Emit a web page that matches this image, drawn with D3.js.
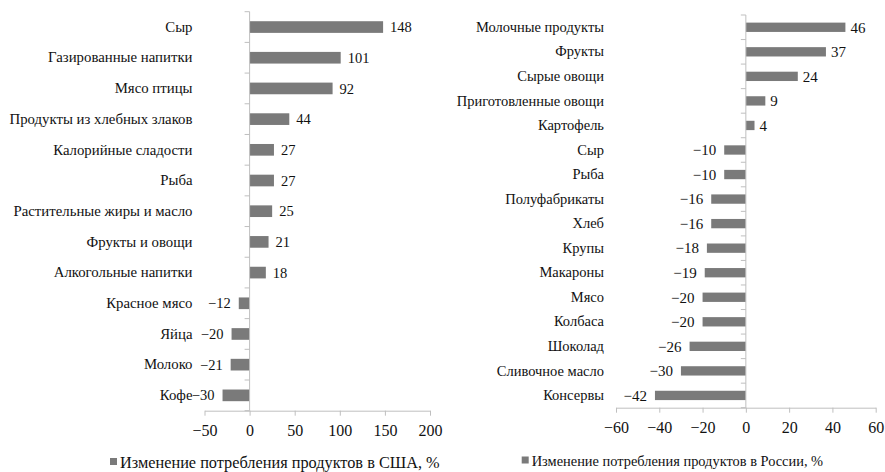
<!DOCTYPE html>
<html>
    <head>
        <script src="https://d3js.org/d3.v7.min.js"></script>
        <style>
            body { margin: 0; background: #fff; }
            svg { display: block; }
            text { font-family: "Liberation Serif", "Times New Roman", serif; fill: #111; }
        </style>
    </head>
    <body>
        <svg id="chart" width="885" height="472"></svg>
        <script>
            // USA data (top to bottom)
            let usaLabels = ["Сыр", "Газированные напитки", "Мясо птицы", "Продукты из хлебных злаков",
                "Калорийные сладости", "Рыба", "Растительные жиры и масло", "Фрукты и овощи",
                "Алкогольные напитки", "Красное мясо", "Яйца", "Молоко", "Кофе"];
            let usaValues = [148, 101, 92, 44, 27, 27, 25, 21, 18, -12, -20, -21, -30];
            let usaTicks = [-50, 0, 50, 100, 150, 200];
            let usaLegend = "Изменение потребления продуктов в США, %";

            // Russia data (top to bottom)
            let rusLabels = ["Молочные продукты", "Фрукты", "Сырые овощи", "Приготовленные овощи",
                "Картофель", "Сыр", "Рыба", "Полуфабрикаты", "Хлеб", "Крупы", "Макароны", "Мясо",
                "Колбаса", "Шоколад", "Сливочное масло", "Консервы"];
            let rusValues = [46, 37, 24, 9, 4, -10, -10, -16, -16, -18, -19, -20, -20, -26, -30, -42];
            let rusTicks = [-60, -40, -20, 0, 20, 40, 60];
            let rusLegend = "Изменение потребления продуктов в России, %";

            let svg = d3.select("#chart");
            let axisColor = "#bfbfbf";
            let barColor = "#7a7a7a";
            let fmt = v => v < 0 ? "\u2212" + Math.abs(v) : String(v);

            function drawPanel(o) {
                let g = svg.append("g");

                let x = d3.scaleLinear().domain([o.ticks[0], o.ticks[o.ticks.length - 1]]).range([o.left, o.right]);
                let y = d3.scaleBand().domain(o.labels).range([o.top, o.bottom])
                    .paddingInner(0.62).paddingOuter(0.31);

                // category labels, to the left of the plot area
                let cat = g.append("g")
                    .attr("transform", `translate(${x(o.ticks[0])},0)`)
                    .call(d3.axisLeft(y).tickSize(0).tickPadding(12));
                cat.select(".domain").remove();
                cat.selectAll("text").style("font-size", o.catFont + "px").style("font-family", null);

                // bars
                g.selectAll("rect.bar").data(o.values).join("rect")
                    .attr("class", "bar")
                    .attr("x", d => x(Math.min(0, d)))
                    .attr("y", (d, i) => y(o.labels[i]))
                    .attr("width", d => Math.abs(x(d) - x(0)))
                    .attr("height", y.bandwidth())
                    .attr("fill", barColor);

                // value labels
                g.selectAll("text.val").data(o.values).join("text")
                    .attr("class", "val")
                    .attr("x", d => d < 0 ? x(d) - 8 : x(d) + o.posGap)
                    .attr("y", (d, i) => y(o.labels[i]) + y.bandwidth() / 2)
                    .attr("dy", "0.35em")
                    .attr("text-anchor", d => d < 0 ? "end" : "start")
                    .style("font-size", o.valFont + "px")
                    .text(fmt);

                // vertical axis at zero with ticks between categories
                g.append("line")
                    .attr("x1", x(0)).attr("x2", x(0))
                    .attr("y1", o.top).attr("y2", o.bottom)
                    .attr("stroke", axisColor);
                g.selectAll("line.ct").data(d3.range(o.labels.length + 1)).join("line")
                    .attr("class", "ct")
                    .attr("x1", x(0) - 5).attr("x2", x(0))
                    .attr("y1", i => o.top + i * y.step())
                    .attr("y2", i => o.top + i * y.step())
                    .attr("stroke", axisColor);

                // horizontal value axis
                let xa = g.append("g")
                    .attr("transform", `translate(0,${o.bottom})`)
                    .call(d3.axisBottom(x).tickValues(o.ticks).tickFormat(fmt)
                        .tickSizeInner(5).tickSizeOuter(0).tickPadding(9));
                xa.select(".domain").attr("stroke", axisColor);
                xa.selectAll(".tick line").attr("stroke", axisColor);
                xa.selectAll("text").style("font-size", o.tickFont + "px").style("font-family", null).attr("fill", "#111");

                // legend
                let lg = g.append("g").attr("transform", `translate(${o.legX},${o.legY})`);
                lg.append("rect").attr("x", 0).attr("y", -4).attr("width", 7).attr("height", 7).attr("fill", barColor);
                lg.append("text").attr("x", 10).attr("y", 0).attr("dy", "0.35em")
                    .style("font-size", o.legFont + "px").text(o.legend);
            }

            drawPanel({
                labels: usaLabels, values: usaValues, ticks: usaTicks, legend: usaLegend,
                left: 204.5, right: 430, top: 11.7, bottom: 410.7,
                catFont: 14.8, valFont: 14.5, tickFont: 16, legFont: 16.3, posGap: 7,
                legX: 110, legY: 462
            });

            drawPanel({
                labels: rusLabels, values: rusValues, ticks: rusTicks, legend: rusLegend,
                left: 616, right: 875.7, top: 15, bottom: 407.7,
                catFont: 14.5, valFont: 15, tickFont: 16, legFont: 14.4, posGap: 5,
                legX: 521.7, legY: 460.5
            });
        </script>
    </body>
</html>
